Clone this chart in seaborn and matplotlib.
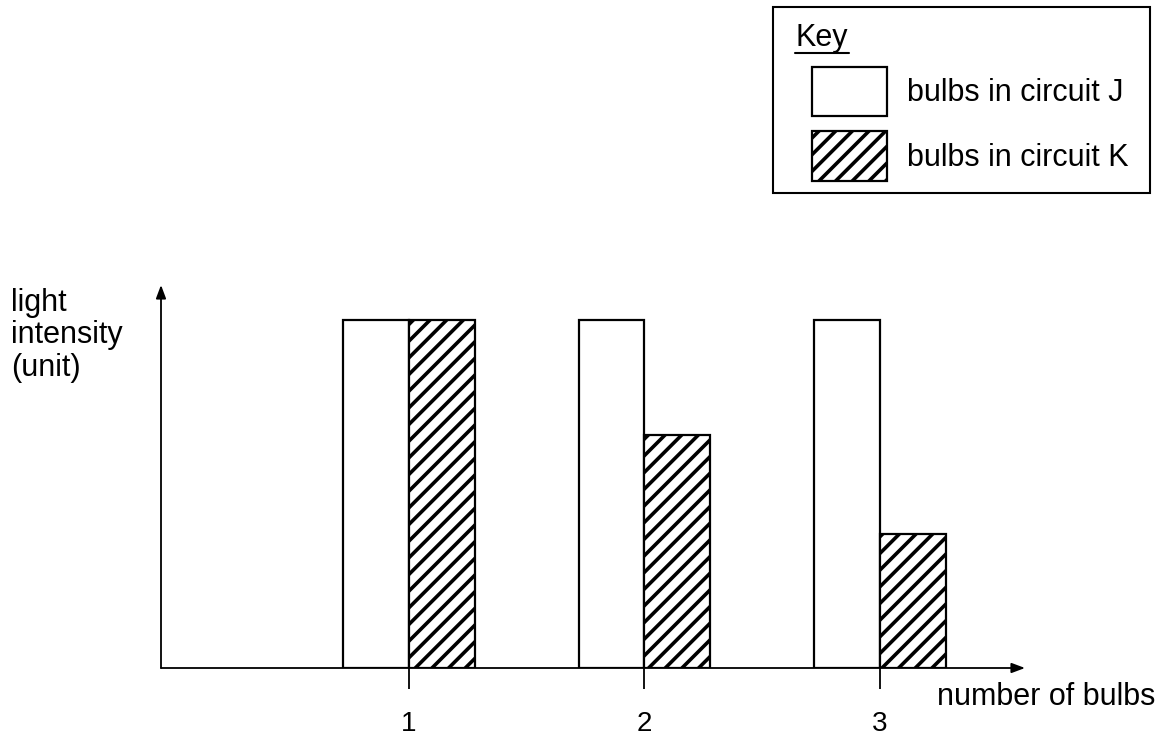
import pandas as pd
import seaborn as sns
import matplotlib.pyplot as plot
from matplotlib.lines import Line2D
from matplotlib.patches import Rectangle

sns.set_style('white')
plot.rcParams['font.family'] = ['Liberation Sans', 'DejaVu Sans']
plot.rcParams['text.color'] = 'black'
plot.rcParams['xtick.color'] = 'black'
plot.rcParams['hatch.linewidth'] = 2.6

# Values (arbitrary units)
bulbs = ['1', '2', '3']
circuit_j = [10, 10, 10]
circuit_k = [10, 6.7, 3.85]
series_names = ['bulbs in circuit J', 'bulbs in circuit K']

df = pd.DataFrame({
    'bulbs': bulbs * 2,
    'intensity': circuit_j + circuit_k,
    'circuit': [series_names[0]] * len(bulbs) + [series_names[1]] * len(bulbs),
})

W, H = 1164, 740
fig = plot.figure(figsize=(W / 100, H / 100), dpi=100)
ax = fig.add_axes([161 / W, 1 - 668 / H, (1025 - 161) / W, (668 - 285) / H])

sns.barplot(data=df, x='bulbs', y='intensity', hue='circuit',
            palette=['white', 'white'], edgecolor='black', linewidth=1.6,
            width=0.56, errorbar=None, legend=False, ax=ax)

# hatch the circuit K bars
for bar in ax.containers[1]:
    bar.set_hatch('//')

ax.set_xlim(-1.053, 2.616)
ax.set_ylim(0, 11)
ax.set_xlabel('')
ax.set_ylabel('')
for s in ax.spines.values():
    s.set_visible(False)

# axes drawn as arrows
arrow = dict(arrowstyle='-|>,head_length=0.8,head_width=0.3', color='black',
             lw=1.3, shrinkA=0, shrinkB=0)
ax.annotate('', xy=(1, 0), xytext=(0, 0), xycoords='axes fraction', arrowprops=arrow)
ax.annotate('', xy=(0, 1), xytext=(0, 0), xycoords='axes fraction', arrowprops=arrow)

ax.tick_params(axis='x', bottom=True, direction='out', length=15, width=1.3,
               pad=16, labelsize=20, color='black', labelcolor='black')
ax.tick_params(axis='y', left=False, labelleft=False)

fig.text(937 / W, 1 - 697 / H, 'number of bulbs', fontsize=22, va='center', ha='left')
fig.text(11 / W, 1 - 288 / H, 'light\nintensity\n(unit)', fontsize=22,
         va='top', ha='left', linespacing=1.1)

# Key box
handles = [ax.containers[0][0], ax.containers[1][0]]
fig.legend(handles, series_names, loc='upper left',
           bbox_to_anchor=(812 / W, 1 - 67 / H), frameon=False, fontsize=22,
           handlelength=2.45, handleheight=2.1, handletextpad=0.65,
           labelspacing=0.5, borderpad=0, borderaxespad=0)
fig.add_artist(Rectangle((773 / W, 1 - 193 / H), (1150 - 773) / W, (193 - 7) / H,
                         transform=fig.transFigure, fill=False,
                         edgecolor='black', lw=1.5))
fig.text(795 / W, 1 - 46 / H, 'Key', fontsize=22, va='baseline', ha='left')
fig.add_artist(Line2D([795 / W, 849 / W], [1 - 53 / H, 1 - 53 / H],
                      transform=fig.transFigure, color='black', lw=1.5))

fig.savefig('out.png', dpi=100)
